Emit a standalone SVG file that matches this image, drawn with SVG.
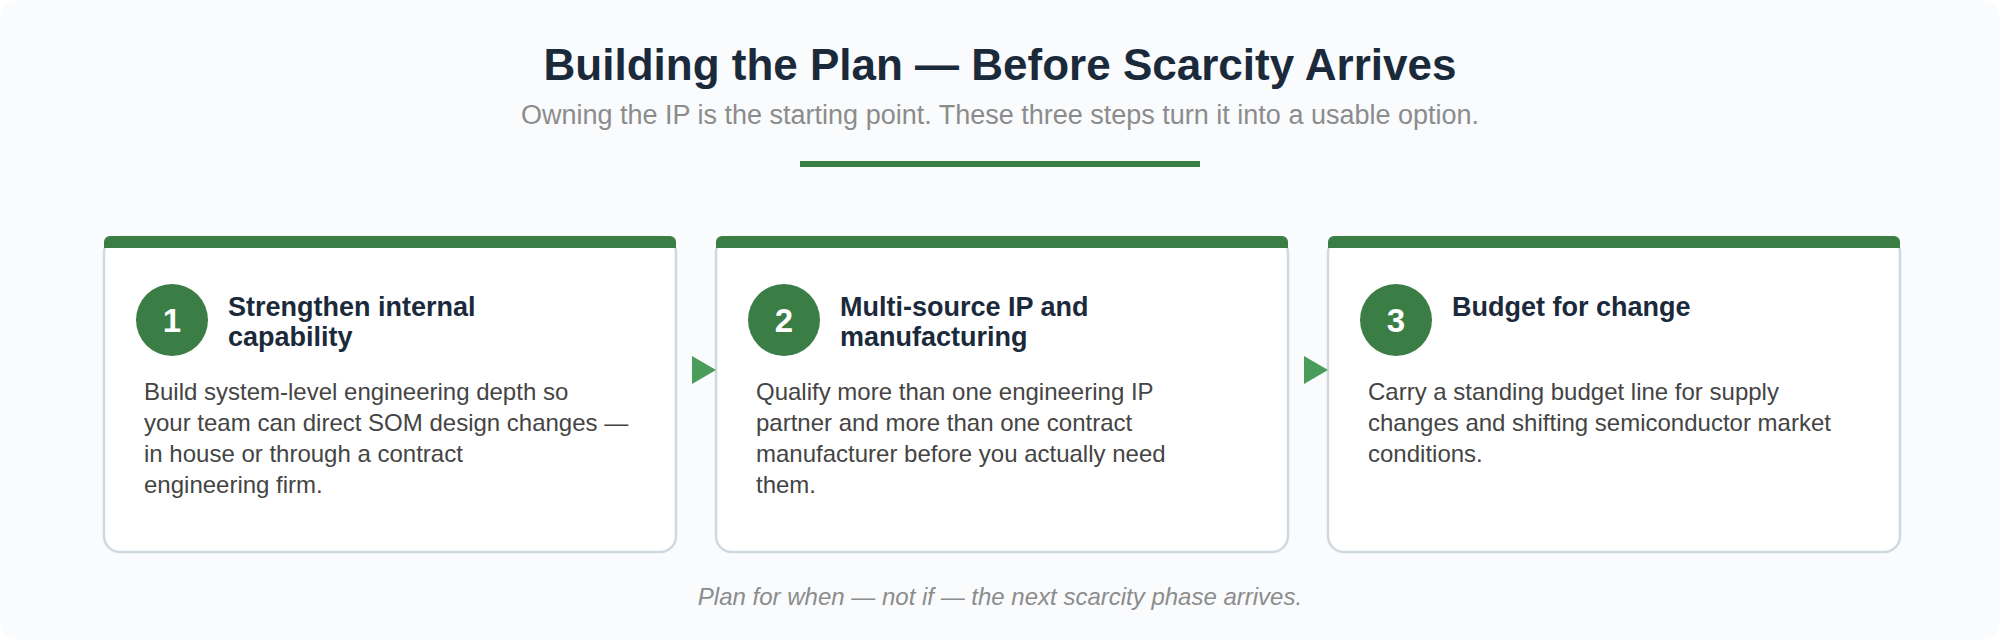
<svg xmlns="http://www.w3.org/2000/svg" width="2000" height="640" viewBox="0 0 2000 640">
<style>
.title{font-family:"Liberation Sans",Arial,sans-serif;font-weight:bold;font-size:44px;fill:#1b2a3b}
.sub{font-family:"Liberation Sans",Arial,sans-serif;font-size:27px;fill:#8c8c8c}
.card{fill:#ffffff;stroke:#d0d9e0;stroke-width:2.5}
.bar{fill:#3a7d45}
.num{fill:#3a7d45}
.numt{font-family:"Liberation Sans",Arial,sans-serif;font-weight:bold;font-size:33px;fill:#ffffff}
.head{font-family:"Liberation Sans",Arial,sans-serif;font-weight:bold;font-size:27px;fill:#1b2a3b}
.body{font-family:"Liberation Sans",Arial,sans-serif;font-size:24px;fill:#444444}
.foot{font-family:"Liberation Sans",Arial,sans-serif;font-style:italic;font-size:24px;fill:#8c8c8c}
.arrow{fill:#4a9c5a}
</style>
<rect x="0" y="0" width="2000" height="640" fill="#ffffff"/>
<rect x="0" y="0" width="2000" height="640" rx="20" fill="#f9fbfd"/>
<text class="title" x="1000" y="80" text-anchor="middle">Building the Plan — Before Scarcity Arrives</text>
<text class="sub" x="1000" y="124" text-anchor="middle">Owning the IP is the starting point. These three steps turn it into a usable option.</text>
<rect x="800" y="161" width="400" height="6" fill="#3a7d45"/>
<g id="node1">
<rect class="card" x="104" y="237" width="572" height="315" rx="16"/>
<path class="bar" d="M104 242 a6 6 0 0 1 6 -6 H670 a6 6 0 0 1 6 6 V248 H104 Z"/>
<circle class="num" cx="172" cy="320" r="36"/>
<text class="numt" x="172" y="332" text-anchor="middle">1</text>
<text class="head" x="228" y="316">Strengthen internal</text>
<text class="head" x="228" y="346">capability</text>
<text class="body" x="144" y="400">Build system-level engineering depth so</text>
<text class="body" x="144" y="431">your team can direct SOM design changes —</text>
<text class="body" x="144" y="462">in house or through a contract</text>
<text class="body" x="144" y="493">engineering firm.</text>
</g>
<g id="node2">
<rect class="card" x="716" y="237" width="572" height="315" rx="16"/>
<path class="bar" d="M716 242 a6 6 0 0 1 6 -6 H1282 a6 6 0 0 1 6 6 V248 H716 Z"/>
<circle class="num" cx="784" cy="320" r="36"/>
<text class="numt" x="784" y="332" text-anchor="middle">2</text>
<text class="head" x="840" y="316">Multi-source IP and</text>
<text class="head" x="840" y="346">manufacturing</text>
<text class="body" x="756" y="400">Qualify more than one engineering IP</text>
<text class="body" x="756" y="431">partner and more than one contract</text>
<text class="body" x="756" y="462">manufacturer before you actually need</text>
<text class="body" x="756" y="493">them.</text>
</g>
<g id="node3">
<rect class="card" x="1328" y="237" width="572" height="315" rx="16"/>
<path class="bar" d="M1328 242 a6 6 0 0 1 6 -6 H1894 a6 6 0 0 1 6 6 V248 H1328 Z"/>
<circle class="num" cx="1396" cy="320" r="36"/>
<text class="numt" x="1396" y="332" text-anchor="middle">3</text>
<text class="head" x="1452" y="316">Budget for change</text>
<text class="body" x="1368" y="400">Carry a standing budget line for supply</text>
<text class="body" x="1368" y="431">changes and shifting semiconductor market</text>
<text class="body" x="1368" y="462">conditions.</text>
</g>
<g id="connectors">
<polygon class="arrow" points="692,356 716,370 692,384"/>
<polygon class="arrow" points="1304,356 1328,370 1304,384"/>
</g>
<text class="foot" x="1000" y="605" text-anchor="middle">Plan for when — not if — the next scarcity phase arrives.</text>
</svg>
